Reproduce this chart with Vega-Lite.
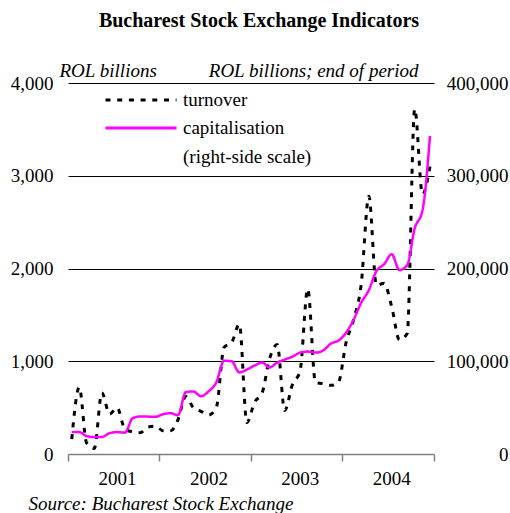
{
  "$schema": "https://vega.github.io/schema/vega-lite/v6.json",
  "autosize": {"type": "none"},
  "width": 366,
  "height": 371,
  "padding": {"left": 68, "top": 83, "right": 76, "bottom": 59},
  "background": "white",
  "config": {
    "font": "Liberation Serif",
    "view": {"stroke": null},
    "axis": {"labelFont": "Liberation Serif", "titleFont": "Liberation Serif", "labelFontSize": 19, "titleFontSize": 19, "labelColor": "#000000", "titleColor": "#000000", "titleFontWeight": "normal"}
  },
  "title": {"text": "Bucharest Stock Exchange Indicators", "font": "Liberation Serif", "fontSize": 20, "fontWeight": "bold", "color": "#000000", "anchor": "middle", "dx": 8, "offset": 30},
  "data": {"values": [
    {"date": "2001-01-16", "turnover": 160, "capitalisation": 23600},
    {"date": "2001-02-15", "turnover": 720, "capitalisation": 23600},
    {"date": "2001-03-16", "turnover": 120, "capitalisation": 19300},
    {"date": "2001-04-16", "turnover": 60, "capitalisation": 18200},
    {"date": "2001-05-16", "turnover": 660, "capitalisation": 18200},
    {"date": "2001-06-16", "turnover": 430, "capitalisation": 22500},
    {"date": "2001-07-16", "turnover": 500, "capitalisation": 23600},
    {"date": "2001-08-16", "turnover": 270, "capitalisation": 23000},
    {"date": "2001-09-16", "turnover": 240, "capitalisation": 38600},
    {"date": "2001-10-16", "turnover": 230, "capitalisation": 40500},
    {"date": "2001-11-16", "turnover": 290, "capitalisation": 40300},
    {"date": "2001-12-16", "turnover": 300, "capitalisation": 40200},
    {"date": "2002-01-16", "turnover": 250, "capitalisation": 42900},
    {"date": "2002-02-15", "turnover": 250, "capitalisation": 44000},
    {"date": "2002-03-16", "turnover": 370, "capitalisation": 41800},
    {"date": "2002-04-16", "turnover": 620, "capitalisation": 66500},
    {"date": "2002-05-16", "turnover": 500, "capitalisation": 67500},
    {"date": "2002-06-16", "turnover": 460, "capitalisation": 62200},
    {"date": "2002-07-16", "turnover": 420, "capitalisation": 67500},
    {"date": "2002-08-16", "turnover": 500, "capitalisation": 77200},
    {"date": "2002-09-16", "turnover": 1150, "capitalisation": 100500},
    {"date": "2002-10-16", "turnover": 1200, "capitalisation": 100000},
    {"date": "2002-11-16", "turnover": 1400, "capitalisation": 87900},
    {"date": "2002-12-16", "turnover": 340, "capitalisation": 91100},
    {"date": "2003-01-16", "turnover": 560, "capitalisation": 95400},
    {"date": "2003-02-15", "turnover": 660, "capitalisation": 98600},
    {"date": "2003-03-16", "turnover": 1020, "capitalisation": 93200},
    {"date": "2003-04-16", "turnover": 1180, "capitalisation": 98600},
    {"date": "2003-05-16", "turnover": 470, "capitalisation": 101800},
    {"date": "2003-06-16", "turnover": 750, "capitalisation": 105000},
    {"date": "2003-07-16", "turnover": 890, "capitalisation": 109300},
    {"date": "2003-08-16", "turnover": 1780, "capitalisation": 110400},
    {"date": "2003-09-16", "turnover": 770, "capitalisation": 109300},
    {"date": "2003-10-16", "turnover": 760, "capitalisation": 111500},
    {"date": "2003-11-16", "turnover": 740, "capitalisation": 119000},
    {"date": "2003-12-16", "turnover": 770, "capitalisation": 122200},
    {"date": "2004-01-16", "turnover": 1200, "capitalisation": 130800},
    {"date": "2004-02-15", "turnover": 1450, "capitalisation": 144700},
    {"date": "2004-03-16", "turnover": 1820, "capitalisation": 162900},
    {"date": "2004-04-16", "turnover": 2780, "capitalisation": 176800},
    {"date": "2004-05-16", "turnover": 1820, "capitalisation": 197200},
    {"date": "2004-06-16", "turnover": 1840, "capitalisation": 204700},
    {"date": "2004-07-16", "turnover": 1590, "capitalisation": 215400},
    {"date": "2004-08-16", "turnover": 1230, "capitalisation": 198300},
    {"date": "2004-09-16", "turnover": 1300, "capitalisation": 203600},
    {"date": "2004-10-16", "turnover": 3720, "capitalisation": 243300},
    {"date": "2004-11-16", "turnover": 2800, "capitalisation": 262600},
    {"date": "2004-12-16", "turnover": 3100, "capitalisation": 343000}
  ]},
  "transform": [{"fold": ["turnover", "capitalisation"], "as": ["series", "value"]}],
  "encoding": {
    "x": {
      "field": "date", "type": "temporal",
      "scale": {"type": "utc", "domain": [{"year": 2001, "month": 1, "date": 1, "utc": true}, {"year": 2005, "month": 1, "date": 1, "utc": true}]},
      "axis": {
        "values": [{"year": 2001, "month": 1, "date": 1, "utc": true}, {"year": 2002, "month": 1, "date": 1, "utc": true}, {"year": 2003, "month": 1, "date": 1, "utc": true}, {"year": 2004, "month": 1, "date": 1, "utc": true}, {"year": 2005, "month": 1, "date": 1, "utc": true}],
        "labelExpr": "utcyear(datum.value) < 2005 ? utcFormat(datum.value, '%Y') : ''",
        "labelOffset": 49, "labelFlush": false, "labelOverlap": false, "labelBound": false,
        "labelBaseline": "top", "labelPadding": 8,
        "grid": false, "domainColor": "#808080", "domainWidth": 1.5, "tickColor": "#808080", "tickSize": 7, "tickWidth": 1.5,
        "title": "Source: Bucharest Stock Exchange", "titleFontStyle": "italic", "titleAnchor": null, "titleAlign": "left", "titleBaseline": "alphabetic", "titleX": -40, "titleY": 55
      }
    },
    "color": {"field": "series", "type": "nominal", "scale": {"domain": ["turnover", "capitalisation"], "range": ["#000000", "#FF00FF"]}, "legend": {
      "orient": "none", "legendX": 36, "legendY": 3, "title": null, "padding": 0,
      "symbolType": "stroke", "symbolSize": 5041, "symbolStrokeWidth": 3,
      "labelFont": "Liberation Serif", "labelFontSize": 19, "labelColor": "#000000", "labelOffset": 5, "labelLimit": 300, "rowPadding": 0, "clipHeight": 28,
      "labelExpr": "datum.label == 'capitalisation' ? ['capitalisation', '(right-side scale)'] : datum.label",
      "encode": {"labels": {"update": {"lineHeight": {"value": 29}}}}
    }},
    "strokeDash": {"field": "series", "type": "nominal", "scale": {"domain": ["turnover", "capitalisation"], "range": [[5, 6.7], [1, 0]]}, "legend": {
      "orient": "none", "legendX": 36, "legendY": 3, "title": null, "padding": 0,
      "symbolType": "stroke", "symbolSize": 5041, "symbolStrokeWidth": 3,
      "labelFont": "Liberation Serif", "labelFontSize": 19, "labelColor": "#000000", "labelOffset": 5, "labelLimit": 300, "rowPadding": 0, "clipHeight": 28,
      "labelExpr": "datum.label == 'capitalisation' ? ['capitalisation', '(right-side scale)'] : datum.label",
      "encode": {"labels": {"update": {"lineHeight": {"value": 29}}}}
    }}
  },
  "layer": [
    {
      "transform": [{"filter": "datum.series == 'turnover'"}],
      "mark": {"type": "line", "interpolate": "monotone", "strokeWidth": 3},
      "encoding": {
        "y": {"field": "value", "type": "quantitative", "scale": {"domain": [0, 4000], "nice": false}, "axis": {
          "orient": "left", "values": [0, 1000, 2000, 3000, 4000], "format": ",.0f", "domain": false, "ticks": false, "tickSize": 0, "labelPadding": 15,
          "grid": true, "gridColor": {"condition": {"test": "datum.value === 0", "value": "transparent"}, "value": "#000000"}, "gridOpacity": 1, "gridWidth": 1,
          "title": "ROL billions", "titleFontStyle": "italic", "titleAngle": 0, "titleAlign": "left", "titleBaseline": "alphabetic", "titleX": -9, "titleY": -7
        }}
      }
    },
    {
      "transform": [{"filter": "datum.series == 'capitalisation'"}],
      "mark": {"type": "line", "interpolate": "monotone", "strokeWidth": 2.5},
      "encoding": {
        "y": {"field": "value", "type": "quantitative", "scale": {"domain": [0, 400000], "nice": false}, "axis": {
          "orient": "right", "values": [0, 100000, 200000, 300000, 400000], "format": ",.0f", "domain": false, "ticks": false, "tickSize": 0, "labelPadding": 74, "labelAlign": "right",
          "grid": false,
          "title": "ROL billions; end of period", "titleFontStyle": "italic", "titleAngle": 0, "titleAlign": "right", "titleBaseline": "alphabetic", "titleX": -16, "titleY": -7
        }}
      }
    }
  ],
  "resolve": {"scale": {"y": "independent"}}
}
